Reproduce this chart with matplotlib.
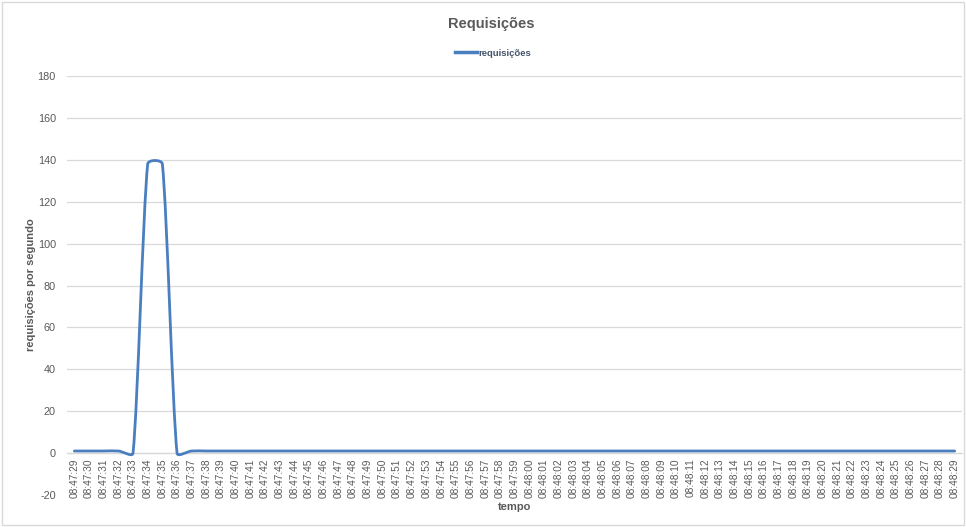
import matplotlib
matplotlib.use("Agg")
import matplotlib.pyplot as plt
from matplotlib.path import Path
from matplotlib.patches import PathPatch, Rectangle
from matplotlib.lines import Line2D
import numpy as np

plt.rcParams["axes.unicode_minus"] = False

# per-second request counts, 08:47:29 .. 08:48:29
times = [f"08:47:{s:02d}" for s in range(29, 60)] + [f"08:48:{s:02d}" for s in range(0, 30)]
requests = [1, 1, 1, 1, 0, 138, 138, 0] + [1] * 53

title = "Requisições"
series_name = "requisições"
x_label = "tempo"
y_label = "requisições por segundo"
y_ticks = [-20, 0, 20, 40, 60, 80, 100, 120, 140, 160, 180]

LINE = "#4A7EBF"
GRID = "#D9D9D9"
TEXT = "#595959"
FONT = ["Liberation Sans Narrow", "Liberation Sans", "DejaVu Sans"]

fig = plt.figure(figsize=(9.66, 5.27), dpi=100)
ax = fig.add_axes([67 / 966, 32 / 527, 895 / 966, 419 / 527])

n = len(requests)
ax.set_xlim(-0.5, n - 0.5)
ax.set_ylim(-20, 180)

# smoothed line: cubic Bezier segments built in display space;
# each control arm shrinks when its segment is much shorter than the neighbour
x = np.arange(n, dtype=float)
y = np.asarray(requests, dtype=float)
pts = ax.transData.transform(np.column_stack([x, y]))
seglen = np.hypot(*(np.diff(pts, axis=0).T))


def control(i, j):
    """control arm at point i pointing along segment (i, j)"""
    a = pts[max(i - 1, 0)]
    b = pts[min(i + 1, n - 1)]
    d = (b - a) / 6.0
    s_here = seglen[min(i, j)]
    other = seglen[max(i, j)] if j < i and max(i, j) < n - 1 else None
    if j > i:
        other = seglen[i - 1] if i - 1 >= 0 else None
    else:
        other = seglen[i] if i < n - 1 else None
    if other is not None and s_here + other > 0:
        d = d * min(1.0, 2.0 * s_here / (s_here + other))
    return d


verts = [pts[0]]
codes = [Path.MOVETO]
for i in range(n - 1):
    p0, p1 = pts[i], pts[i + 1]
    verts += [p0 + control(i, i + 1), p1 - control(i + 1, i), p1]
    codes += [Path.CURVE4] * 3
verts = ax.transData.inverted().transform(np.array(verts))
ax.add_patch(PathPatch(Path(verts, codes), facecolor="none", edgecolor=LINE,
                       lw=2.0, capstyle="round", joinstyle="round", zorder=3))

ax.set_yticks(y_ticks)
ax.yaxis.grid(True, color=GRID, lw=0.9)
ax.set_axisbelow(True)
for s in ax.spines.values():
    s.set_visible(False)
ax.spines["bottom"].set_position(("data", 0))
ax.spines["bottom"].set_visible(True)
ax.spines["bottom"].set_color(GRID)
ax.spines["bottom"].set_linewidth(0.9)

ax.set_xticks(x)
ax.set_xticklabels(times, rotation=90, fontsize=7.3, color=TEXT, family=FONT)
ax.tick_params(axis="x", length=0, pad=4)
ax.tick_params(axis="y", length=0, pad=8, labelsize=7.8, labelcolor=TEXT)
for lab in ax.get_yticklabels():
    lab.set_family(FONT)

fig.text(515 / 966, 1 - 507 / 527, x_label, ha="center", va="center",
         fontsize=8, fontweight="bold", color=TEXT, family=FONT)
fig.text(31 / 966, 1 - 285 / 527, y_label, ha="center", va="center", rotation=90,
         fontsize=8, fontweight="bold", color=TEXT, family=FONT)
fig.text(491 / 966, 1 - 24 / 527, title, ha="center", va="center",
         fontsize=10.5, fontweight="bold", color=TEXT, family=FONT)

handle = Line2D([], [], color=LINE, lw=2.5)
fig.legend([handle], [series_name], loc="center", bbox_to_anchor=(493 / 966, 1 - 53 / 527),
           frameon=False, handlelength=2.3, handletextpad=0.2,
           prop={"family": FONT, "size": 6.8, "weight": "bold"}, labelcolor="#44546A")

fig.patches.append(Rectangle((2 / 966, 2 / 527), 962 / 966, 523 / 527, transform=fig.transFigure,
                             fill=False, edgecolor=GRID, lw=1.0))

fig.savefig("out.png", dpi=100)
